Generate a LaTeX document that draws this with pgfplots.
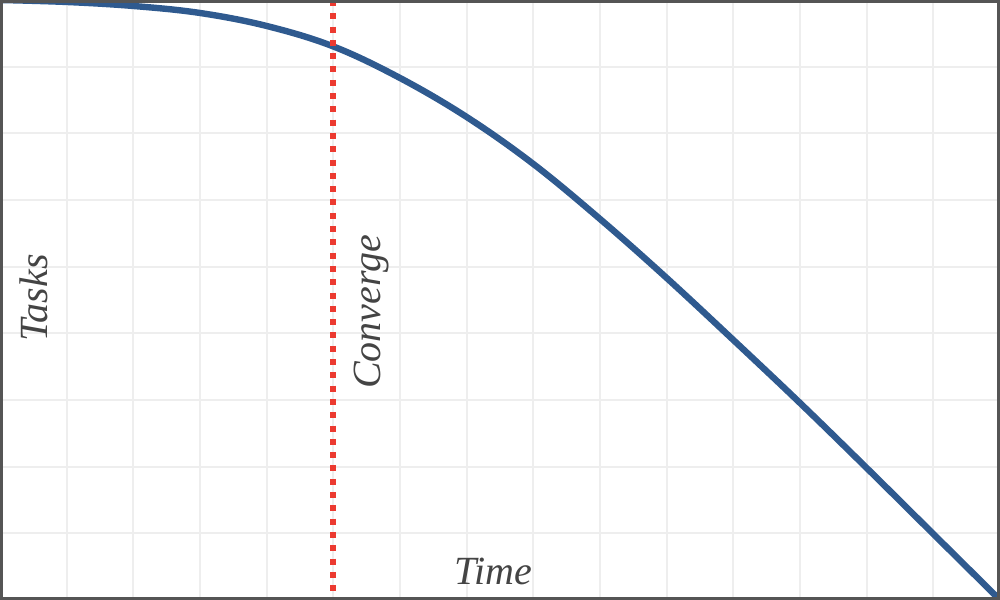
\documentclass[border=0pt]{standalone}
\usepackage{pgfplots}
\pgfplotsset{compat=1.18}
\usepackage{fontspec}
\setmainfont{Liberation Serif}
\definecolor{curveblue}{HTML}{2F5A8F}
\definecolor{convred}{HTML}{EC3A30}
\definecolor{gridgray}{HTML}{EEEEEE}
\definecolor{framegray}{HTML}{555555}
\definecolor{labelgray}{HTML}{444444}

\begin{document}
\begin{tikzpicture}
\begin{axis}[
    name=main,
    width=500pt, height=300pt,
    scale only axis,
    xmin=0, xmax=15, ymin=0, ymax=9,
    xtick={0,...,15}, ytick={0,...,9},
    xticklabels={}, yticklabels={},
    major tick length=0pt,
    grid=major,
    grid style={gridgray, line width=1pt},
    axis line style={draw=none},
    clip=true,
]
% task curve
\addplot[curveblue, line width=3.2pt, smooth, tension=0.6] coordinates {
    (0,9.000) (1,8.970) (2,8.910) (3,8.805) (4,8.610) (5,8.303)
    (6,7.830) (7,7.245) (8,6.540) (9,5.715) (10,4.830) (11,3.900)
    (12,2.955) (13,1.980) (14,0.990) (15,0.000)
};
% convergence marker
\addplot[convred, line width=3pt, dash pattern=on 3pt off 3.65pt] coordinates {
    (5,9) (5,0)
};
\node[rotate=90, text=labelgray, font=\itshape\fontsize{20}{24}\selectfont]
    at (axis cs:0.51,4.53) {Tasks};
\node[rotate=90, text=labelgray, font=\itshape\fontsize{20}{24}\selectfont]
    at (axis cs:5.58,4.32) {Converge};
\node[text=labelgray, font=\itshape\fontsize{20}{24}\selectfont]
    at (axis cs:7.4,0.43) {Time};
\end{axis}
\draw[framegray, line width=3.2pt] (main.south west) rectangle (main.north east);
\pgfresetboundingbox
\path[use as bounding box] (main.south west) rectangle (main.north east);
\end{tikzpicture}
\end{document}
